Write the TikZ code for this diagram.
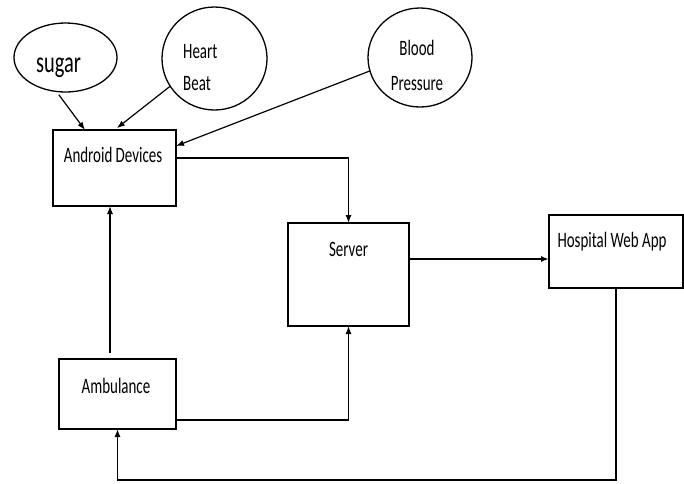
\documentclass[tikz,border=0pt]{standalone}
\usepackage{fontspec}
\setmainfont{Carlito}[FakeStretch=0.68]
\usetikzlibrary{shapes.geometric,arrows.meta}

\begin{document}
\begin{tikzpicture}[x=1pt,y=-1pt,
    box/.style={draw=black, line width=1.8pt, rectangle, inner sep=0pt, outer sep=0pt},
    bubble/.style={draw=black, line width=1.3pt, ellipse, inner sep=0pt, outer sep=0pt},
    txt/.style={anchor=base, inner sep=0pt, font=\fontsize{22}{26}\selectfont},
    arr/.style={-{Latex[length=8pt,width=6pt]}, line width=1.2pt}]
    \useasboundingbox (0,0) rectangle (684,483);

    % sensors
    \node (sugar)[bubble, minimum width=103, minimum height=69] at (65.5,57.5) {};
    \node (heart)[bubble, minimum width=105, minimum height=103] at (214.5,58.5) {};
    \node (blood)[bubble, minimum width=104, minimum height=99] at (420,57.5) {};

    % blocks
    \node (android)[box, minimum width=123, minimum height=76] at (114.5,168) {};
    \node (server)[box, minimum width=121, minimum height=103] at (348.5,274.5) {};
    \node (hospital)[box, minimum width=134, minimum height=73] at (616,251.5) {};
    \node (ambulance)[box, minimum width=117, minimum height=70] at (117.5,394) {};

    % labels
    \node (sugar-t)[txt, font=\fontsize{30}{34}\selectfont] at (58.5,72) {sugar};
    \node (heart-t1)[txt, anchor=base west] at (183,58) {Heart};
    \node (heart-t2)[txt, anchor=base west] at (183,90) {Beat};
    \foreach \name/\x/\y/\txt in
      {blood-t1/417/55/Blood, blood-t2/417/90/Pressure,
       android-t/113/162/Android Devices,
       server-t/348.5/256/Server,
       hospital-t/612/247/Hospital Web App,
       ambulance-t/116/393/Ambulance}
    \node (\name)[txt] at (\x,\y) {\txt};

    \coordinate (srvout) at ([yshift=15.5pt]server.east);
    \coordinate (ambup) at ([xshift=-4.5pt]android.south);
    \coordinate (floor) at (0,480);

    \draw[arr, shorten <=4pt] (sugar.255) -- ([xshift=-29.5pt]android.north);
    \draw[arr, shorten >=3pt] (heart.212) -- (android.north);
    \draw[arr] (blood.195) -- ([yshift=22pt]android.east);
    \draw[arr] ([yshift=10pt]android.east) -| (server.north);
    \draw[arr, line width=1.8pt] (srvout) -- (srvout -| hospital.west);
    \draw[arr, shorten <=6pt] (ambup |- ambulance.north) -- (ambup);
    \draw[arr] ([yshift=-26pt]ambulance.east) -| (server.south);
    \draw[arr] (hospital.south) -- (hospital.south |- floor) -| (ambulance.south);
\end{tikzpicture}
\end{document}
